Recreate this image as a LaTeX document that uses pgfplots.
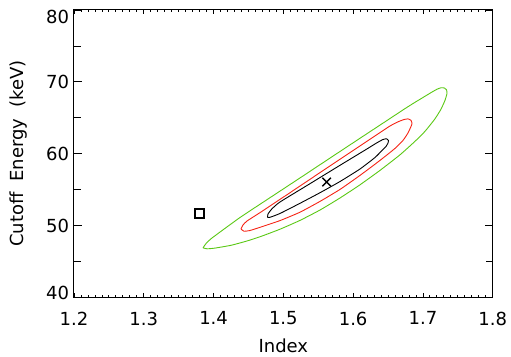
\documentclass[border=0pt]{standalone}
\usepackage{fontspec}
\setmainfont{DejaVu Sans}
\usepackage{pgfplots}
\pgfplotsset{compat=1.18}
\definecolor{cgreen}{RGB}{90,200,20}
\definecolor{cred}{RGB}{245,35,20}
\begin{document}
\begin{tikzpicture}
\begin{axis}[
  at={(0,0)}, anchor=south west,
  width=418.7pt, height=287.3pt, scale only axis,
  xmin=1.2, xmax=1.8, ymin=40, ymax=80,
  xtick={1.2,1.3,1.4,1.5,1.6,1.7,1.8},
  xticklabels={1.2,1.3,1.4,1.5,1.6,1.7,1.8},
  ytick={40,50,60,70,80},
  yticklabels={\raisebox{4.8pt}[\height][\depth]{40},50,60,70,\raisebox{-6.5pt}[\height][\depth]{80}},
  minor x tick num=9, minor y tick num=1,
  tick align=inside,
  axis line style={line width=1pt},
  every tick/.style={black, line width=0.8pt},
  major tick length=8pt, minor tick length=6.5pt,
  xtick style={/pgfplots/major tick length=4.5pt,/pgfplots/minor tick length=2.3pt},
  /pgf/number format/assume math mode=true,
  tick label style={font=\fontsize{18}{21}\selectfont},
  x tick label style={yshift=-11pt},
  y tick label style={xshift=-1.5pt},
  every axis x label/.style={at={(axis description cs:0.5,-0.1904)}, anchor=base, font=\fontsize{18}{21}\selectfont},
  every axis y label/.style={at={(axis description cs:-0.1218,0.5)}, anchor=base, rotate=90, font=\fontsize{18}{21}\selectfont},
  xlabel={Index},
  ylabel={Cutoff\hspace{0.6em}Energy\hspace{0.6em}(keV)},
]
% green contour
\addplot[cgreen, line width=0.9pt, smooth, tension=0.3] coordinates {
(1.3849,46.89) (1.3892,47.48) (1.3978,48.26) (1.4379,51.11) (1.4809,53.87)
(1.5239,56.62) (1.5668,59.38) (1.6098,62.14) (1.6528,64.89) (1.6743,66.27) (1.6887,67.15)
(1.7030,67.99) (1.7130,68.58) (1.7202,68.97) (1.7259,69.17) (1.7309,69.14) (1.7338,68.89)
(1.7345,68.39) (1.7316,67.41) (1.7259,66.19) (1.7173,64.85) (1.7030,63.11) (1.6887,61.72)
(1.6672,59.84) (1.6385,57.67) (1.6098,55.66) (1.5812,53.83) (1.5525,52.15) (1.5239,50.71)
(1.4952,49.48) (1.4680,48.48) (1.4479,47.84) (1.4250,47.24) (1.4021,46.85) (1.3906,46.75)
(1.3849,46.89)
};
% red contour
\addplot[cred, line width=0.9pt, smooth, tension=0.3] coordinates {
(1.4393,49.51) (1.4422,50.07) (1.4479,50.62) (1.4680,51.88) (1.5095,54.56) (1.5525,57.36)
(1.5955,60.15) (1.6313,62.47) (1.6528,63.85) (1.6643,64.43) (1.6729,64.75) (1.6786,64.84)
(1.6829,64.64) (1.6844,64.20) (1.6829,63.78) (1.6786,62.88) (1.6715,61.85) (1.6600,60.73)
(1.6385,59.06) (1.6098,56.97) (1.5812,55.02) (1.5525,53.35) (1.5239,51.85) (1.4952,50.68)
(1.4680,49.79) (1.4522,49.30) (1.4436,49.20) (1.4393,49.51)
};
% black contour
\addplot[black, line width=0.9pt, smooth, tension=0.3] coordinates {
(1.4773,51.11) (1.4780,51.60) (1.4837,52.32) (1.4952,53.27) (1.5382,55.82) (1.5812,58.38)
(1.6170,60.49) (1.6342,61.52) (1.6428,61.97) (1.6478,62.07) (1.6507,61.83) (1.6500,61.48)
(1.6471,61.00) (1.6414,60.44) (1.6313,59.46) (1.6098,57.86) (1.5812,56.12) (1.5525,54.56)
(1.5239,53.09) (1.4952,51.67) (1.4809,51.14) (1.4773,51.11)
};
% best fit and square marker
\addplot[only marks, mark=x, mark size=6pt, mark options={line width=1.4pt, black}] coordinates {(1.562,56.05)};
\addplot[only marks, mark=square, mark size=4.5pt, mark options={line width=1.6pt, black}] coordinates {(1.3795,51.65)};
\end{axis}
\pgfresetboundingbox
\path[use as bounding box] (-74pt,-58.7pt) rectangle (437pt,297.3pt);
\end{tikzpicture}
\end{document}
